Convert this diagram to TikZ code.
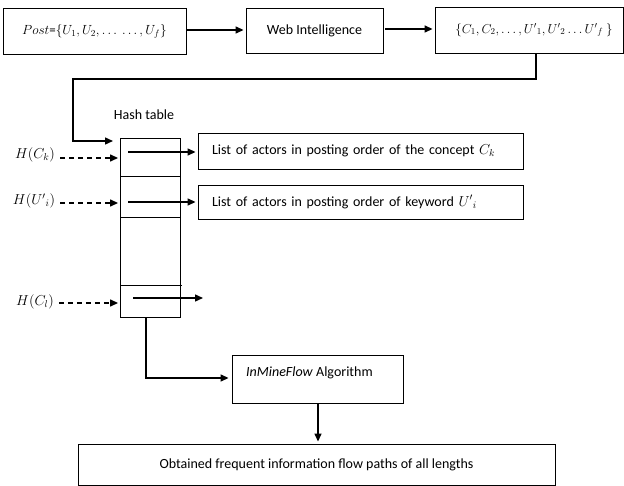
\documentclass[tikz,border=0pt]{standalone}
\usepackage{fontspec}
\usepackage{graphicx}
\setmainfont{Carlito}
\usetikzlibrary{arrows.meta,calc}
\tikzset{
  box/.style={draw,line width=0.9pt,rectangle,inner sep=0pt,align=center},
  conn/.style={line width=1.4pt,-{Triangle[length=8pt,width=7pt]}},
  dconn/.style={line width=1.4pt,dash pattern=on 5pt off 4pt,-{Triangle[length=8pt,width=7pt]}},
  thin/.style={line width=0.9pt},
  lab/.style={inner sep=0pt}
}
\begin{document}
\begin{tikzpicture}[x=1pt,y=-1pt,font=\fontsize{14}{16}\selectfont]
\useasboundingbox (0,0) rectangle (624,486);
% top row
\node[box,minimum width=183pt,minimum height=46pt] (post) at (94.5,31) {\scalebox{0.92}{$Post$=$\{U_1,U_2,\dots\ \dots,U_f\}$}};
\node[box,minimum width=137pt,minimum height=45pt] (web) at (314.5,30.5) {Web Intelligence};
\node[box,minimum width=188pt,minimum height=46pt] (set) at (529,30) {\hspace*{10pt}\scalebox{0.9}{$\{C_1,C_2,\dots,U'{}_1,U'{}_2\dots U'{}_f\ \}$}};
\draw[conn,shorten >=2pt,shorten <=1pt] (post.east |- 0,30) -- (web.west |- 0,30);
\draw[conn,shorten >=2pt,shorten <=2pt] (web.east |- 0,29) -- (set.west |- 0,29);
% hash table
\node[lab] (htl) at (144,115) {Hash table};
\node[box,minimum width=60pt,minimum height=179pt] (hash) at (150,227.5) {};
\draw[thin] (120,176) -- (180,176);
\draw[thin] (120,217) -- (180,217);
\draw[thin] (120,285) -- (182,285);
\coordinate (entry) at (113,141);
\draw[conn] (set.south -| 536,0) -- (536,79) -- (73,79) -- (73,141) -- (entry);
% lists
\node[box,minimum width=325pt,minimum height=36pt,text width=297pt,align=left] (l1) at (360.5,151) {List of actors in posting order of the concept $C_k$};
\node[box,minimum width=325pt,minimum height=34pt,text width=297pt,align=left] (l2) at (360.5,202) {List of actors in posting order of keyword $U'{}_i$};
\coordinate (r1) at (128,152);
\coordinate (r2) at (128,202);
\coordinate (r3) at (133,298);
\coordinate (r3e) at (203,298);
\draw[conn,shorten >=2pt] (r1) -- (r1 -| l1.west);
\draw[conn,shorten >=2pt] (r2) -- (r2 -| l2.west);
\draw[conn] (r3) -- (r3e);
% hash keys
\node[lab] (hk) at (35,155) {$H(C_k)$};
\node[lab] (hu) at (34,201) {$H(U'{}_i)$};
\node[lab] (hl) at (35,302) {$H(C_l)$};
\draw[dconn,shorten >=1.5pt] ($(hk.east)+(5,3)$) -- (hash.west |- 0,158);
\draw[dconn,shorten >=1.5pt] ($(hu.east)+(5,2)$) -- (hash.west |- 0,203);
\draw[dconn,shorten >=1.5pt] ($(hl.east)+(5,1)$) -- (hash.west |- 0,303);
% algorithm
\node[box,minimum width=171pt,minimum height=48pt] (algo) at (317.5,379) {};
\node[lab,anchor=west] (algot) at (246,373) {\textit{InMineFlow} Algorithm};
\draw[conn,shorten >=3pt] (hash.south -| 146,0) -- (146,378) -- (algo.west |- 0,378);
% final
\node[box,minimum width=477pt,minimum height=41pt] (fin) at (316.5,464.5) {Obtained frequent information flow paths of all lengths};
\draw[conn,shorten >=2pt] (algo.south -| 318,0) -- (fin.north -| 318,0);
\end{tikzpicture}
\end{document}
